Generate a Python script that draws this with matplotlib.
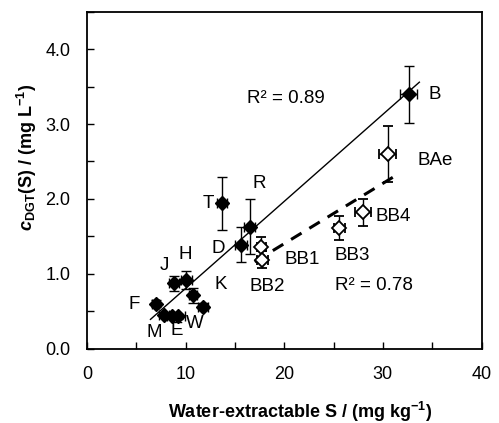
import matplotlib
matplotlib.use('Agg')
import matplotlib.pyplot as plt
from matplotlib.ticker import MultipleLocator

plt.rcParams['font.family'] = 'Liberation Sans'
plt.rcParams['mathtext.fontset'] = 'custom'
plt.rcParams['mathtext.rm'] = 'Liberation Sans'
plt.rcParams['mathtext.it'] = 'Liberation Sans:italic'
plt.rcParams['mathtext.bf'] = 'Liberation Sans:bold'
plt.rcParams['mathtext.bfit'] = 'Liberation Sans:italic:bold'

# filled diamonds (soils on the main line)
soil_x = [32.6, 13.7, 16.5, 15.6, 8.8, 10.1, 10.75, 11.8, 6.96, 7.8, 8.6, 9.2]
soil_y = [3.40, 1.94, 1.63, 1.39, 0.87, 0.91, 0.71, 0.56, 0.60, 0.45, 0.44, 0.43]
soil_xerr = [0.85, 0.5, 0.55, 0.6, 0.5, 0.6, 0.4, 0.5, 0.4, 0.5, 0.5, 0.7]
soil_yerr = [0.38, 0.35, 0.37, 0.23, 0.10, 0.12, 0.10, 0.05, 0.05, 0.03, 0.03, 0.03]

# open diamonds (B horizons)
bh_x = [17.7, 17.8, 25.6, 28.0, 30.5]
bh_y = [1.36, 1.19, 1.61, 1.82, 2.60]
bh_xerr = [0.5, 0.6, 0.6, 0.8, 0.85]
bh_yerr = [0.13, 0.11, 0.16, 0.18, 0.38]

# regression lines (end points)
fit1_x = [6.45, 33.7]
fit1_y = [0.39, 3.56]
fit2_x = [17.0, 31.4]
fit2_y = [1.16, 2.32]

labels = ['B', 'BAe', 'BB4', 'BB3', 'BB1', 'BB2', 'R', 'T', 'D', 'H', 'J', 'K', 'F', 'M', 'E', 'W']
label_x = [34.6, 33.5, 29.3, 25.05, 20.0, 16.5, 17.5, 12.3, 13.3, 10.0, 7.9, 13.6, 4.8, 6.85, 9.1, 10.9]
label_y = [3.39, 2.51, 1.77, 1.25, 1.19, 0.83, 2.20, 1.94, 1.34, 1.26, 1.11, 0.85, 0.59, 0.22, 0.24, 0.34]
label_ha = ['left', 'left', 'left', 'left', 'left', 'left', 'center', 'center', 'center',
            'center', 'center', 'center', 'center', 'center', 'center', 'center']

fig = plt.figure(figsize=(4.99, 4.23), dpi=100)
ax = fig.add_axes([0.174, 0.176, 0.791, 0.796])

ax.plot(fit1_x, fit1_y, color='black', lw=1.0)
ax.plot(fit2_x, fit2_y, color='black', lw=2.2, dashes=(4, 3))

ax.errorbar(soil_x, soil_y, xerr=soil_xerr, yerr=soil_yerr, fmt='D', color='black',
            mfc='black', mec='black', ms=7, elinewidth=1, capsize=3.5, capthick=1)
ax.errorbar(bh_x, bh_y, xerr=bh_xerr, yerr=bh_yerr, fmt='D', color='black',
            mfc='white', mec='black', mew=1.3, ms=7, elinewidth=1, capsize=3.5, capthick=1)

for t, x, y, ha in zip(labels, label_x, label_y, label_ha):
    ax.text(x, y, t, ha=ha, va='center', fontsize=13.5)

ax.text(16.2, 3.34, 'R² = 0.89', ha='left', va='center', fontsize=13.5)
ax.text(25.15, 0.84, 'R² = 0.78', ha='left', va='center', fontsize=13.5)

ax.set_xlim(0, 40)
ax.set_ylim(0, 4.5)
ax.xaxis.set_major_locator(MultipleLocator(10))
ax.xaxis.set_minor_locator(MultipleLocator(5))
ax.set_yticks([0, 1, 2, 3, 4])
ax.set_yticklabels(['0.0', '1.0', '2.0', '3.0', '4.0'])
ax.yaxis.set_minor_locator(MultipleLocator(0.5))
ax.tick_params(which='both', direction='in', top=False, right=False, labelsize=13, width=1)
ax.tick_params(which='major', length=5)
ax.tick_params(which='minor', length=5)
ax.tick_params(axis='x', pad=12.5)
ax.tick_params(axis='y', pad=12)
for s in ax.spines.values():
    s.set_linewidth(1.3)

xl = ax.set_xlabel(r'Water-extractable S / (mg kg$^{\mathbf{-1}}$)', fontsize=13, fontweight='bold')
yl = ax.set_ylabel(r'$\mathbfit{c}_{\mathbf{DGT}}$(S) / (mg L$^{\mathbf{-1}}$)', fontsize=13, fontweight='bold')
xl.set_va('center')
yl.set_va('center')
ax.xaxis.set_label_coords(0.54, -0.188)
ax.yaxis.set_label_coords(-0.152, 0.569)

fig.savefig('out.png', dpi=100)
